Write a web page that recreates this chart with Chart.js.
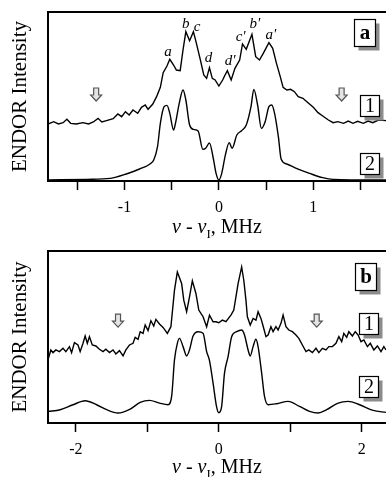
<!DOCTYPE html>
<html>
<head>
<meta charset="utf-8">
<script src="https://cdn.jsdelivr.net/npm/chart.js@4.4.0/dist/chart.umd.min.js"></script>
<style>
  html, body { margin: 0; padding: 0; background: #fff; overflow: hidden; width: 386px; height: 477px; }
  .panel { position: absolute; left: 0; width: 386px; }
  #panelA { top: 0; height: 240px; }
  #panelB { top: 240px; height: 237px; }
</style>
</head>
<body>
<div class="panel" id="panelA"><canvas id="chartA" width="386" height="240"></canvas></div>
<div class="panel" id="panelB"><canvas id="chartB" width="386" height="237"></canvas></div>
<script>
// ---- data: [frequency offset (MHz), intensity (arb. units)] ----
const topExp = [
  [-1.81,171],[-1.75,178],[-1.70,171],[-1.65,175],[-1.61,185],[-1.57,173],[-1.51,171],[-1.44,175],
  [-1.38,171],[-1.33,177],[-1.28,188],[-1.24,177],[-1.19,181],[-1.12,187],[-1.07,201],[-1.03,193],
  [-0.99,208],[-0.95,198],[-0.91,213],[-0.86,203],[-0.82,221],[-0.78,228],[-0.75,215],[-0.70,231],
  [-0.66,253],[-0.62,281],[-0.59,325],[-0.55,345],[-0.52,365],[-0.48,348],[-0.45,333],[-0.41,331],
  [-0.38,393],[-0.35,448],[-0.31,421],[-0.27,448],[-0.24,415],[-0.20,368],[-0.16,318],[-0.13,308],
  [-0.10,340],[-0.07,308],[-0.04,303],[0.00,285],[0.04,303],[0.06,315],[0.09,331],[0.13,303],
  [0.17,338],[0.22,363],[0.25,411],[0.29,395],[0.32,418],[0.35,440],[0.39,373],[0.43,363],
  [0.47,383],[0.53,415],[0.57,398],[0.61,353],[0.65,313],[0.68,281],[0.72,273],[0.76,275],
  [0.80,268],[0.84,253],[0.89,248],[0.95,233],[1.00,221],[1.05,205],[1.10,195],[1.16,183],
  [1.21,175],[1.26,178],[1.32,173],[1.37,180],[1.42,173],[1.47,179],[1.53,173],[1.58,180],
  [1.63,175],[1.69,183],[1.77,181]
];
const topSim = [
  [-1.81,3],[-1.40,5],[-1.15,8],[-0.98,21],[-0.84,36],[-0.73,51],[-0.69,63],[-0.65,103],
  [-0.62,173],[-0.58,223],[-0.55,227],[-0.52,203],[-0.48,153],[-0.46,173],[-0.42,233],[-0.38,273],
  [-0.35,243],[-0.31,168],[-0.27,155],[-0.22,150],[-0.17,95],[-0.14,98],[-0.10,114],[-0.06,69],
  [-0.03,23],[0,3],[0.03,23],[0.07,80],[0.11,115],[0.14,98],[0.19,138],[0.24,151],
  [0.29,168],[0.34,223],[0.37,275],[0.41,228],[0.45,158],[0.49,178],[0.53,223],[0.56,228],
  [0.59,203],[0.63,133],[0.66,65],[0.72,51],[0.82,38],[0.96,23],[1.10,10],[1.21,5],[1.77,3]
];
const bottomExp = [
  [-2.39,190],[-2.35,220],[-2.32,212],[-2.28,220],[-2.23,215],[-2.18,225],[-2.14,215],[-2.09,230],
  [-2.06,212],[-2.02,242],[-1.97,235],[-1.94,215],[-1.90,240],[-1.87,262],[-1.84,240],[-1.81,260],
  [-1.77,235],[-1.72,232],[-1.67,222],[-1.62,215],[-1.58,222],[-1.53,212],[-1.48,220],[-1.44,208],
  [-1.39,218],[-1.34,202],[-1.30,220],[-1.25,235],[-1.20,240],[-1.17,258],[-1.13,252],[-1.10,275],
  [-1.06,270],[-1.03,295],[-0.99,278],[-0.95,308],[-0.91,292],[-0.88,312],[-0.83,298],[-0.78,288],
  [-0.72,270],[-0.67,290],[-0.62,400],[-0.58,455],[-0.52,420],[-0.49,370],[-0.45,335],[-0.41,380],
  [-0.37,428],[-0.32,390],[-0.28,340],[-0.22,320],[-0.17,290],[-0.13,325],[-0.08,305],[-0.04,305],
  [0.00,302],[0.05,310],[0.10,305],[0.17,325],[0.21,340],[0.27,420],[0.32,470],[0.35,430],
  [0.38,370],[0.40,320],[0.44,295],[0.48,315],[0.52,310],[0.55,335],[0.59,315],[0.62,292],
  [0.66,260],[0.69,265],[0.73,290],[0.76,275],[0.80,290],[0.83,280],[0.87,300],[0.90,325],
  [0.94,290],[0.98,280],[1.03,275],[1.08,265],[1.12,255],[1.17,235],[1.22,215],[1.26,220],
  [1.31,212],[1.36,225],[1.40,212],[1.45,225],[1.50,220],[1.54,230],[1.59,230],[1.64,240],
  [1.68,260],[1.72,245],[1.75,270],[1.79,258],[1.82,275],[1.87,262],[1.91,275],[1.95,265],
  [1.99,245],[2.03,250],[2.08,230],[2.12,240],[2.17,220],[2.22,232],[2.27,215],[2.31,230],
  [2.34,220]
];
const bottomSim = [
  [-2.39,35],[-2.22,40],[-2.04,55],[-1.87,67],[-1.71,55],[-1.57,40],[-1.41,30],[-1.24,42],
  [-1.10,62],[-0.97,68],[-0.83,60],[-0.71,55],[-0.66,80],[-0.62,190],[-0.58,240],[-0.55,255],
  [-0.50,230],[-0.45,202],[-0.41,220],[-0.36,262],[-0.29,275],[-0.22,270],[-0.17,215],[-0.13,188],
  [-0.08,120],[-0.03,48],[0,31],[0.04,50],[0.08,150],[0.13,200],[0.18,260],[0.25,275],
  [0.32,280],[0.36,265],[0.41,220],[0.44,202],[0.48,230],[0.52,252],[0.55,230],[0.60,150],
  [0.64,80],[0.69,55],[0.81,58],[0.97,65],[1.13,50],[1.27,35],[1.39,30],[1.51,40],
  [1.67,60],[1.81,65],[1.97,55],[2.16,38],[2.34,32]
];

// peak letters (panel a): text, MHz, intensity
const peakLabels = [
  ["a",-0.54,387],["b",-0.35,470],["c",-0.23,462],["d",-0.11,369],
  ["d'",0.12,360],["c'",0.23,432],["b'",0.38,470],["a'",0.55,438]
];
// marker arrows: MHz positions
const topArrows = [-1.30, 1.30];
const bottomArrows = [-1.41, 1.37];
// panel / trace tags: text, MHz, intensity
const topTags = [["a",1.545,447],["1",1.59,225],["2",1.59,54]];
const bottomTags = [["b",2.05,442],["1",2.10,300],["2",2.10,109]];

const SERIF = '"Liberation Serif", "Times New Roman", serif';

function toPoints(pairs) {
  return pairs.map(p => ({ x: p[0], y: p[1] }));
}

function drawArrow(ctx, x, y) {
  ctx.save();
  ctx.beginPath();
  ctx.moveTo(x - 2.5, y - 7);
  ctx.lineTo(x + 2.5, y - 7);
  ctx.lineTo(x + 2.5, y);
  ctx.lineTo(x + 5.5, y);
  ctx.lineTo(x, y + 6);
  ctx.lineTo(x - 5.5, y);
  ctx.lineTo(x - 2.5, y);
  ctx.closePath();
  ctx.fillStyle = "#e4e4e4";
  ctx.fill();
  ctx.strokeStyle = "#555";
  ctx.lineWidth = 1.2;
  ctx.stroke();
  ctx.restore();
}

function drawTag(ctx, cx, cy, text, bold) {
  const w = bold ? 21 : 19;
  const h = bold ? 27 : 21;
  const x0 = Math.round(cx - w / 2) + 0.5;
  const y0 = Math.round(cy - h / 2) + 0.5;
  ctx.save();
  ctx.fillStyle = "#8c8c8c";
  ctx.fillRect(x0 + 4, y0 + 4, w, h);
  ctx.fillStyle = "#fff";
  ctx.fillRect(x0, y0, w, h);
  ctx.strokeStyle = "#000";
  ctx.lineWidth = 1.2;
  ctx.strokeRect(x0, y0, w, h);
  ctx.fillStyle = "#000";
  ctx.font = (bold ? "bold 21px " : "20px ") + SERIF;
  ctx.textAlign = "center";
  ctx.textBaseline = "middle";
  ctx.fillText(text, x0 + w / 2, y0 + h / 2 + 1);
  ctx.restore();
}

function drawXTitle(ctx, cx, baseline) {
  const parts = [
    { t: "\u03BD", f: "italic 20px " + SERIF, dy: 0 },
    { t: " - ", f: "20px " + SERIF, dy: 0 },
    { t: "\u03BD", f: "italic 20px " + SERIF, dy: 0 },
    { t: "I", f: "13px " + SERIF, dy: 5 },
    { t: ", MHz", f: "20px " + SERIF, dy: 0 }
  ];
  ctx.save();
  let total = 0;
  parts.forEach(p => { ctx.font = p.f; p.w = ctx.measureText(p.t).width; total += p.w; });
  let x = cx - total / 2;
  ctx.fillStyle = "#000";
  ctx.textBaseline = "alphabetic";
  ctx.textAlign = "left";
  parts.forEach(p => { ctx.font = p.f; ctx.fillText(p.t, x, baseline + p.dy); x += p.w; });
  ctx.restore();
}

const decorPlugin = {
  id: "panelDecor",
  afterDatasetsDraw(chart, args, opts) {
    const { ctx, chartArea, scales } = chart;
    const sx = scales.x, sy = scales.y;
    ctx.save();
    // top frame line
    ctx.strokeStyle = "#000";
    ctx.lineWidth = 2;
    ctx.beginPath();
    ctx.moveTo(chartArea.left - 1, chartArea.top);
    ctx.lineTo(chartArea.right, chartArea.top);
    ctx.stroke();
    ctx.restore();

    (opts.arrows || []).forEach(a => drawArrow(ctx, sx.getPixelForValue(a), sy.getPixelForValue(opts.arrowY)));

    ctx.save();
    ctx.fillStyle = "#000";
    ctx.font = "italic 15px " + SERIF;
    ctx.textAlign = "center";
    ctx.textBaseline = "middle";
    (opts.peaks || []).forEach(p => ctx.fillText(p[0], sx.getPixelForValue(p[1]), sy.getPixelForValue(p[2])));
    ctx.restore();

    (opts.tags || []).forEach((t, i) => drawTag(ctx, sx.getPixelForValue(t[1]), sy.getPixelForValue(t[2]), t[0], i === 0));

    drawXTitle(ctx, (chartArea.left + chartArea.right) / 2, 233);
  }
};

function buildPanel(canvasId, cfg) {
  const canvas = document.getElementById(canvasId);
  const ctx = canvas.getContext("2d");
  return new Chart(ctx, {
    type: "line",
    data: {
      datasets: [
        { data: toPoints(cfg.exp), borderColor: "#000", borderWidth: 1.4, pointRadius: 0, tension: 0 },
        { data: toPoints(cfg.sim), borderColor: "#000", borderWidth: 1.4, pointRadius: 0, cubicInterpolationMode: "monotone" }
      ]
    },
    plugins: [decorPlugin],
    options: {
      responsive: false,
      animation: false,
      devicePixelRatio: 1,
      layout: { padding: { top: cfg.top, right: 0, bottom: 0, left: 0 } },
      plugins: {
        legend: { display: false },
        tooltip: { enabled: false },
        panelDecor: { arrows: cfg.arrows, arrowY: cfg.arrowY, peaks: cfg.peaks, tags: cfg.tags }
      },
      scales: {
        x: {
          type: "linear",
          min: cfg.xMin,
          max: cfg.xMax,
          afterFit: scale => { scale.height = canvas.height - cfg.bottom; },
          border: { display: true, color: "#000", width: 2 },
          grid: { drawOnChartArea: false, drawTicks: true, tickLength: 9, tickColor: "#000", tickWidth: 1.5 },
          ticks: {
            stepSize: cfg.step,
            includeBounds: false,
            padding: 8,
            color: "#000",
            font: { family: SERIF, size: 16 },
            maxRotation: 0,
            autoSkip: false,
            callback: v => (Math.abs(v % cfg.labelEvery) < 1e-6 ? String(Math.round(v)) : "")
          }
        },
        y: {
          min: 0,
          max: cfg.yMax,
          afterFit: scale => { scale.width = 48; },
          border: { display: true, color: "#000", width: 2 },
          grid: { drawOnChartArea: false, drawTicks: false },
          ticks: { display: false },
          title: {
            display: true,
            text: "ENDOR Intensity",
            color: "#000",
            font: { family: SERIF, size: 21 },
            padding: { top: 8, bottom: 0 }
          }
        }
      }
    }
  });
}

buildPanel("chartA", {
  exp: topExp, sim: topSim,
  xMin: -1.81, xMax: 1.77, step: 0.5, labelEvery: 1,
  yMax: 507, top: 12, bottom: 181,
  arrows: topArrows, arrowY: 258, peaks: peakLabels, tags: topTags
});

buildPanel("chartB", {
  exp: bottomExp, sim: bottomSim,
  xMin: -2.39, xMax: 2.34, step: 1, labelEvery: 2,
  yMax: 518, top: 11, bottom: 183,
  arrows: bottomArrows, arrowY: 307, peaks: [], tags: bottomTags
});
</script>
</body>
</html>
